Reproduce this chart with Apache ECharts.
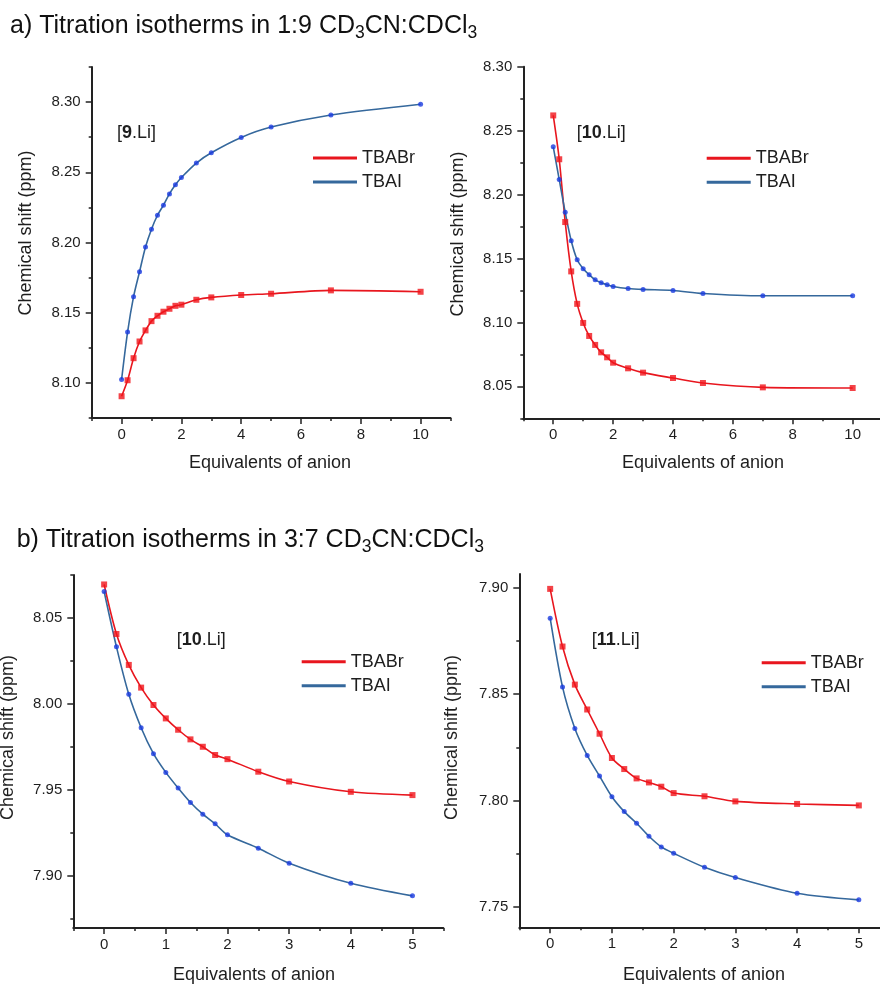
<!DOCTYPE html>
<html><head><meta charset="utf-8">
<script src="https://cdn.jsdelivr.net/npm/echarts@6/dist/echarts.min.js"></script>
<style>html,body{margin:0;padding:0;background:#fff}#c{width:880px;height:985px}</style>
</head><body><div id="c"></div>
<script>
// ---- data ----
const eqA = [0,0.2,0.4,0.6,0.8,1.0,1.2,1.4,1.6,1.8,2.0,2.5,3,4,5,7,10];
const p1Br = [8.0905,8.1019,8.1176,8.1295,8.1374,8.1440,8.1478,8.1507,8.1528,8.1549,8.1557,8.1592,8.1609,8.1626,8.1635,8.1659,8.1649];
const p1I  = [8.1024,8.1362,8.1614,8.1792,8.1968,8.2095,8.2194,8.2266,8.2346,8.2411,8.2463,8.2566,8.2639,8.2748,8.2822,8.2908,8.2985];
const p2Br = [8.2619,8.2276,8.1785,8.1399,8.1145,8.0996,8.0894,8.0824,8.0766,8.0727,8.0685,8.0641,8.0607,8.0565,8.0526,8.0492,8.0487];
const p2I  = [8.2373,8.2117,8.1861,8.1639,8.1490,8.1420,8.1373,8.1333,8.1310,8.1294,8.1281,8.1265,8.1258,8.1250,8.1226,8.1208,8.1208];
const eqB = [0,0.2,0.4,0.6,0.8,1.0,1.2,1.4,1.6,1.8,2.0,2.5,3,4,5];
const p3Br = [8.0695,8.0407,8.0227,8.0095,7.9994,7.9916,7.9850,7.9794,7.9751,7.9703,7.9679,7.9606,7.9549,7.9489,7.9470];
const p3I  = [8.0654,8.0332,8.0056,7.9862,7.9711,7.9602,7.9511,7.9427,7.9359,7.9303,7.9239,7.9161,7.9074,7.8957,7.8884];
const p4Br = [7.8995,7.8724,7.8545,7.8428,7.8314,7.8200,7.8148,7.8104,7.8085,7.8065,7.8035,7.8020,7.7996,7.7984,7.7977];
const p4I  = [7.8857,7.8534,7.8339,7.8212,7.8115,7.8018,7.7948,7.7893,7.7832,7.7782,7.7752,7.7686,7.7638,7.7564,7.7533];

const xMajA = [0,2,4,6,8,10];
const xMinA = [-1,1,3,5,7,9,11];
const xMajB = [0,1,2,3,4,5];
const xMinB = [-0.5,0.5,1.5,2.5,3.5,4.5,5.5];
const y1Maj = [8.10,8.15,8.20,8.25,8.30];
const y1Min = [8.075,8.125,8.175,8.225,8.275,8.325];
const y2Maj = [8.05,8.10,8.15,8.20,8.25,8.30];
const y2Min = [8.025,8.075,8.125,8.175,8.225,8.275];
const y3Maj = [7.90,7.95,8.00,8.05];
const y3Min = [7.875,7.925,7.975,8.025,8.075];
const y4Maj = [7.75,7.80,7.85,7.90];
const y4Min = [7.775,7.825,7.875];

const seriesNames = ['TBABr','TBAI'];
const titleA = '{n|a) Titration isotherms in 1:9 CD}{s|3}{n|CN:CDCl}{s|3}';
const titleB = '{n|b) Titration isotherms in 3:7 CD}{s|3}{n|CN:CDCl}{s|3}';
const labels = ['[{b|9}.Li]','[{b|10}.Li]','[{b|10}.Li]','[{b|11}.Li]'];
const yName = 'Chemical shift (ppm)';
const xName = 'Equivalents of anion';

// ---- styling / layout ----
const FONT = 'Liberation Sans, Arial, Helvetica, sans-serif';
const TXT = '#1e1e1e';
const RED_LINE = '#e8161e', RED_MK = '#f0141a';
const BLUE_LINE = '#35689c', BLUE_MK = '#1a3be0';

const panels = [
  {grid:{left:91.7, top:67, width:358.8, height:351}, x:[-1,11], y:[8.075,8.325], xMaj:xMajA, xMin:xMinA, yMaj:y1Maj, yMin:y1Min, xs:eqA, br:p1Br, i:p1I,
   legend:{left:313, top:149}, lab:{x:117, y:133}, yT:{x:26.5, y:233}, xT:{x:270, y:463}},
  {grid:{left:523.3, top:66.7, width:359.3, height:351.6}, x:[-1,11], y:[8.025,8.30], xMaj:xMajA, xMin:xMinA, yMaj:y2Maj, yMin:y2Min, xs:eqA, br:p2Br, i:p2I,
   legend:{left:706.7, top:149.3}, lab:{x:576.7, y:133}, yT:{x:458.3, y:234}, xT:{x:703, y:463}},
  {grid:{left:73.3, top:575, width:370, height:353}, x:[-0.5,5.5], y:[7.8697,8.075], xMaj:xMajB, xMin:xMinB, yMaj:y3Maj, yMin:y3Min, xs:eqB, br:p3Br, i:p3I,
   legend:{left:301.7, top:652.7}, lab:{x:176.7, y:640}, yT:{x:8, y:737.5}, xT:{x:254, y:975}},
  {grid:{left:519.3, top:574, width:370.4, height:353.3}, x:[-0.5,5.5], y:[7.7404,7.9065], xMaj:xMajB, xMin:xMinB, yMaj:y4Maj, yMin:y4Min, xs:eqB, br:p4Br, i:p4I,
   legend:{left:761.7, top:653.7}, lab:{x:591.7, y:640}, yT:{x:451.7, y:737.5}, xT:{x:704, y:975}}
];

const zip = (xs, ys) => xs.map((x, k) => [x, ys[k]]);
const grids = [], xAxes = [], yAxes = [], series = [], legends = [], graphics = [];
const tickLine = {color:'#222', width:1.5};

panels.forEach((p, g) => {
  grids.push(Object.assign({outerBoundsMode:'none', containLabel:false}, p.grid));
  xAxes.push({gridIndex:g, type:'value', position:'bottom', min:p.x[0], max:p.x[1],
    axisLine:{show:true, onZero:false, lineStyle:{color:'#222', width:2}},
    axisTick:{show:true, inside:false, length:6, customValues:p.xMaj, lineStyle:tickLine},
    axisLabel:{show:true, customValues:p.xMaj, margin:9, fontSize:15, color:TXT, fontFamily:FONT},
    splitLine:{show:false}});
  xAxes.push({gridIndex:g, type:'value', position:'bottom', min:p.x[0], max:p.x[1],
    axisLine:{show:false, onZero:false},
    axisTick:{show:true, inside:false, length:3, customValues:p.xMin, lineStyle:tickLine},
    axisLabel:{show:false}, splitLine:{show:false}});
  yAxes.push({gridIndex:g, type:'value', position:'left', min:p.y[0], max:p.y[1],
    axisLine:{show:true, onZero:false, lineStyle:{color:'#222', width:2}},
    axisTick:{show:true, inside:false, length:6, customValues:p.yMaj, lineStyle:tickLine},
    axisLabel:{show:true, customValues:p.yMaj, margin:11, fontSize:15, color:TXT, fontFamily:FONT,
      formatter:v => Number(v).toFixed(2)},
    splitLine:{show:false}});
  yAxes.push({gridIndex:g, type:'value', position:'left', min:p.y[0], max:p.y[1],
    axisLine:{show:false, onZero:false},
    axisTick:{show:true, inside:false, length:3, customValues:p.yMin, lineStyle:tickLine},
    axisLabel:{show:false}, splitLine:{show:false}});

  const xi = 2*g, yi = 2*g;
  series.push({name:seriesNames[0], type:'line', xAxisIndex:xi, yAxisIndex:yi, data:zip(p.xs, p.br),
    smooth:0.3, showSymbol:false, lineStyle:{color:RED_LINE, width:1.6}, itemStyle:{color:RED_LINE}, z:2, silent:true});
  series.push({name:seriesNames[1], type:'line', xAxisIndex:xi, yAxisIndex:yi, data:zip(p.xs, p.i),
    smooth:0.3, showSymbol:false, lineStyle:{color:BLUE_LINE, width:1.6}, itemStyle:{color:BLUE_LINE}, z:2, silent:true});
  series.push({name:seriesNames[0]+' data', type:'scatter', xAxisIndex:xi, yAxisIndex:yi, data:zip(p.xs, p.br),
    symbol:'rect', symbolSize:6, itemStyle:{color:RED_MK}, z:3, silent:true});
  series.push({name:seriesNames[1]+' data', type:'scatter', xAxisIndex:xi, yAxisIndex:yi, data:zip(p.xs, p.i),
    symbol:'circle', symbolSize:5, itemStyle:{color:BLUE_MK}, z:3, silent:true});

  legends.push({left:p.legend.left, top:p.legend.top, padding:0, orient:'vertical', icon:'rect', itemWidth:44, itemHeight:3, itemGap:6,
    selectedMode:false, textStyle:{fontSize:18, color:TXT, fontFamily:FONT},
    data:[{name:seriesNames[0], itemStyle:{color:RED_LINE}}, {name:seriesNames[1], itemStyle:{color:BLUE_LINE}}]});

  graphics.push({type:'text', x:p.lab.x, y:p.lab.y, style:{text:labels[g], fontSize:18, fill:TXT, fontFamily:FONT,
    align:'left', verticalAlign:'middle', rich:{b:{fontSize:18, fontWeight:'bold', fill:TXT, fontFamily:FONT}}}});
  graphics.push({type:'text', x:p.yT.x, y:p.yT.y, rotation:Math.PI/2, style:{text:yName, fontSize:18, fill:TXT, fontFamily:FONT,
    align:'center', verticalAlign:'middle'}});
  graphics.push({type:'text', x:p.xT.x, y:p.xT.y, style:{text:xName, fontSize:18, fill:TXT, fontFamily:FONT,
    align:'center', verticalAlign:'middle'}});
});

const richT = {n:{fontSize:25, lineHeight:31, fill:'#111', fontFamily:FONT},
               s:{fontSize:17.5, lineHeight:17.5, verticalAlign:'bottom', fill:'#111', fontFamily:FONT}};
graphics.push({type:'text', x:10, y:11, style:{text:titleA, rich:richT, fontFamily:FONT, fill:'#111', align:'left', verticalAlign:'top'}});
graphics.push({type:'text', x:16.7, y:525, style:{text:titleB, rich:richT, fontFamily:FONT, fill:'#111', align:'left', verticalAlign:'top'}});

const chart = echarts.init(document.getElementById('c'), null, {renderer:'canvas'});
chart.setOption({
  backgroundColor:'#ffffff',
  animation:false,
  grid:grids, xAxis:xAxes, yAxis:yAxes, series:series, legend:legends, graphic:graphics
});
</script>
</body></html>
